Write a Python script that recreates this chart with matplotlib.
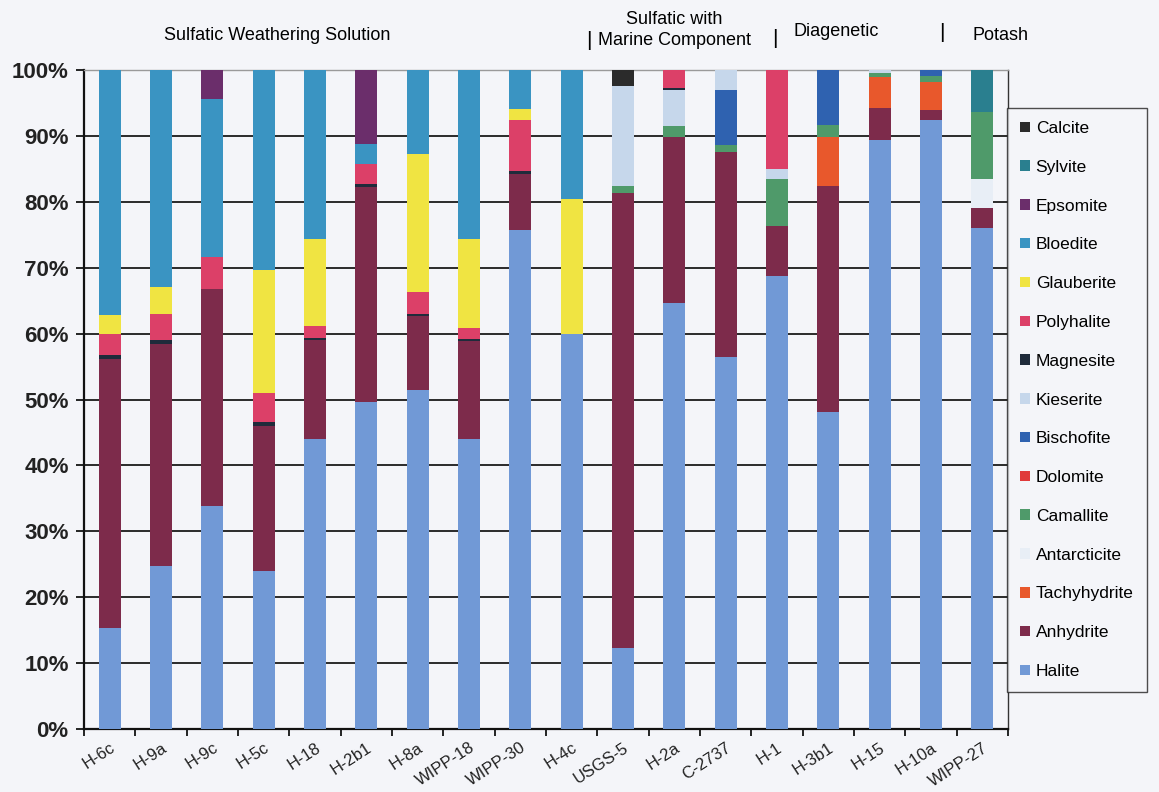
import numpy as np
import matplotlib
matplotlib.use("Agg")
import matplotlib.pyplot as plt
from matplotlib.patches import Patch

plt.rcParams['font.family'] = ['Liberation Sans', 'DejaVu Sans']

samples = ["H-6c", "H-9a", "H-9c", "H-5c", "H-18", "H-2b1", "H-8a", "WIPP-18",
           "WIPP-30", "H-4c", "USGS-5", "H-2a", "C-2737", "H-1", "H-3b1", "H-15",
           "H-10a", "WIPP-27"]

# Mineral fractions (%) per sample, stacked from the bottom up
halite       = [15.3, 24.8, 33.9, 23.9, 44.0, 49.6, 51.5, 44.0, 75.7, 60.0, 12.3, 64.7, 56.4, 68.7, 48.1, 89.4, 92.4, 76.0]
anhydrite    = [40.8, 33.6, 32.9, 22.1, 15.1, 32.6, 11.1, 14.9,  8.5,  0.0, 69.0, 25.2, 31.1,  7.7, 34.3,  4.9,  1.5,  3.0]
tachyhydrite = [ 0.0,  0.0,  0.0,  0.0,  0.0,  0.0,  0.0,  0.0,  0.0,  0.0,  0.0,  0.0,  0.0,  0.0,  7.4,  4.6,  4.3,  0.0]
antarcticite = [ 0.0,  0.0,  0.0,  0.0,  0.0,  0.0,  0.0,  0.0,  0.0,  0.0,  0.0,  0.0,  0.0,  0.0,  0.0,  0.0,  0.0,  4.5]
camallite    = [ 0.0,  0.0,  0.0,  0.0,  0.0,  0.0,  0.0,  0.0,  0.0,  0.0,  1.1,  1.6,  1.1,  7.0,  1.9,  0.7,  0.9, 10.1]
dolomite     = [ 0.0] * 18
bischofite   = [ 0.0,  0.0,  0.0,  0.0,  0.0,  0.0,  0.0,  0.0,  0.0,  0.0,  0.0,  0.0,  8.4,  0.0,  8.3,  0.0,  0.9,  0.0]
kieserite    = [ 0.0,  0.0,  0.0,  0.0,  0.0,  0.0,  0.0,  0.0,  0.0,  0.0, 15.1,  5.5,  3.0,  1.6,  0.0,  0.4,  0.0,  0.0]
magnesite    = [ 0.6,  0.6,  0.0,  0.6,  0.3,  0.5,  0.4,  0.3,  0.5,  0.0,  0.0,  0.3,  0.0,  0.0,  0.0,  0.0,  0.0,  0.0]
polyhalite   = [ 3.2,  4.0,  4.8,  4.4,  1.7,  3.0,  3.3,  1.7,  7.7,  0.0,  0.0,  2.7,  0.0, 15.0,  0.0,  0.0,  0.0,  0.0]
glauberite   = [ 2.9,  4.0,  0.0, 18.7, 13.3,  0.0, 20.9, 13.4,  1.7, 20.4,  0.0,  0.0,  0.0,  0.0,  0.0,  0.0,  0.0,  0.0]
bloedite     = [37.2, 33.0, 24.0, 30.3, 25.6,  3.0, 12.8, 25.7,  5.9, 19.6,  0.0,  0.0,  0.0,  0.0,  0.0,  0.0,  0.0,  0.0]
epsomite     = [ 0.0,  0.0,  4.4,  0.0,  0.0, 11.3,  0.0,  0.0,  0.0,  0.0,  0.0,  0.0,  0.0,  0.0,  0.0,  0.0,  0.0,  0.0]
sylvite      = [ 0.0,  0.0,  0.0,  0.0,  0.0,  0.0,  0.0,  0.0,  0.0,  0.0,  0.0,  0.0,  0.0,  0.0,  0.0,  0.0,  0.0,  6.4]
calcite      = [ 0.0,  0.0,  0.0,  0.0,  0.0,  0.0,  0.0,  0.0,  0.0,  0.0,  2.5,  0.0,  0.0,  0.0,  0.0,  0.0,  0.0,  0.0]

minerals = ["Halite", "Anhydrite", "Tachyhydrite", "Antarcticite", "Camallite",
            "Dolomite", "Bischofite", "Kieserite", "Magnesite", "Polyhalite",
            "Glauberite", "Bloedite", "Epsomite", "Sylvite", "Calcite"]
series = [halite, anhydrite, tachyhydrite, antarcticite, camallite, dolomite,
          bischofite, kieserite, magnesite, polyhalite, glauberite, bloedite,
          epsomite, sylvite, calcite]
colors = ["#7199d6", "#7d2b4b", "#e8582c", "#e8eef6", "#4f9a6a", "#e03a3a",
          "#2f62b0", "#c6d7eb", "#1f2b3b", "#dc4068", "#f0e442", "#3a94c2",
          "#6b2e6b", "#2a7f8f", "#2b2b2b"]

groups = ["Sulfatic Weathering Solution", "Sulfatic with\nMarine Component",
          "Diagenetic", "Potash"]

bg = "#f4f5f9"
fig = plt.figure(figsize=(11.59, 7.92), dpi=100, facecolor=bg)
ax = fig.add_axes([84 / 1159, 1 - 729 / 792, (1008 - 84) / 1159, (729 - 70) / 792])
ax.set_facecolor(bg)

x = np.arange(len(samples))
bottom = np.zeros(len(samples))
for name, vals, col in zip(minerals, series, colors):
    v = np.array(vals, dtype=float)
    ax.bar(x, v, bottom=bottom, width=0.43, color=col, edgecolor="none",
           label=name, zorder=3)
    bottom += v

ax.set_xlim(-0.5, len(samples) - 0.5)
ax.set_ylim(0, 100)
ax.set_yticks(np.arange(0, 101, 10))
ax.set_yticklabels([f"{t}%" for t in range(0, 101, 10)], fontsize=16,
                   fontweight="bold", color="#222222")
ax.yaxis.grid(True, color="#2a2a2a", linewidth=1.4, zorder=0)
ax.set_axisbelow(True)

ax.set_xticks(x)
ax.set_xticklabels(samples, rotation=33, ha="right", rotation_mode="anchor",
                   fontsize=12, color="#222222")
ax.tick_params(axis="x", which="major", length=0, pad=8)
ax.set_xticks(np.arange(-0.5, len(samples), 1.0), minor=True)
ax.tick_params(axis="x", which="minor", length=5, width=1.2, direction="out")
ax.tick_params(axis="y", length=6, width=1.2, direction="out", pad=5)

for side in ("left", "bottom"):
    ax.spines[side].set_color("#111111")
    ax.spines[side].set_linewidth(1.6)
ax.spines["top"].set_color("#9a9a9a")
ax.spines["top"].set_linewidth(1.0)
ax.spines["right"].set_color("#333333")
ax.spines["right"].set_linewidth(1.0)

# Group headings across the top
hfs = 13
fig.text(277 / 1159, 1 - 35 / 792, groups[0], ha="center", va="center", fontsize=hfs)
fig.text(674 / 1159, 1 - 30 / 792, groups[1], ha="center", va="center",
         fontsize=hfs, linespacing=1.25)
fig.text(836 / 1159, 1 - 32 / 792, groups[2], ha="center", va="center", fontsize=hfs)
fig.text(1001 / 1159, 1 - 35 / 792, groups[3], ha="center", va="center", fontsize=hfs)
for px, py in [(589, 40), (775, 38), (942, 33)]:
    fig.text(px / 1159, 1 - py / 792, "|", ha="center", va="center", fontsize=15)

handles = [Patch(facecolor=c, edgecolor="none", label=m)
           for m, c in zip(minerals, colors)][::-1]
leg = fig.legend(handles=handles, loc="upper left",
                 bbox_to_anchor=(1007 / 1159, 1 - 108 / 792),
                 frameon=True, fancybox=False, edgecolor="#222222",
                 facecolor=bg, fontsize=12.5, handlelength=0.55,
                 handleheight=0.55, handletextpad=0.35, labelspacing=1.37,
                 borderpad=0.75, borderaxespad=0)
leg.get_frame().set_linewidth(1.0)

fig.savefig("out.png", dpi=100, facecolor=bg)
